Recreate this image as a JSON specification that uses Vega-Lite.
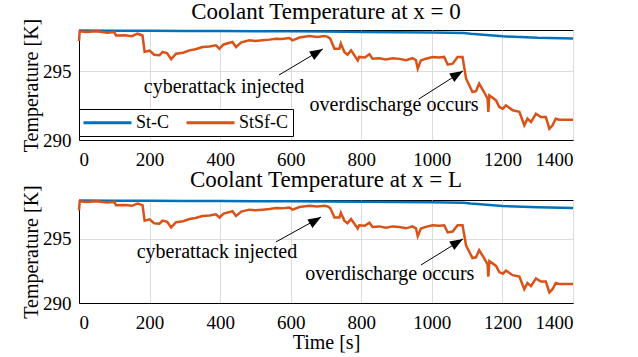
{
  "$schema": "https://vega.github.io/schema/vega-lite/v6.json",
  "background": "white",
  "padding": {"left": 20, "top": 0, "right": 5, "bottom": 0},
  "config": {
    "font": "Liberation Serif",
    "view": {"stroke": "black", "strokeWidth": 1},
    "axis": {"labelFont": "Liberation Serif", "labelFontSize": 19, "titleFont": "Liberation Serif", "titleFontSize": 20, "titleFontWeight": "normal", "labelColor": "black", "titleColor": "black", "domainColor": "black", "ticks": false, "gridColor": "#dcdcdc", "gridWidth": 1, "labelPadding": 8, "titlePadding": 1, "format": "d"},
    "axisX": {"labelPadding": 10},
    "title": {"font": "Liberation Serif", "fontSize": 23, "fontWeight": "normal", "color": "black", "frame": "group", "baseline": "alphabetic"},
    "legend": {"labelFont": "Liberation Serif", "labelFontSize": 18, "labelColor": "black", "fillColor": "white", "strokeColor": "black", "padding": 4, "symbolType": "M-3,0H3", "symbolStrokeWidth": 3, "symbolSize": 256, "symbolOffset": 15, "columnPadding": 10, "labelOffset": 19}
  },
  "datasets": {
    "temps": [
      {"t": 0, "temp": 297.96, "series": "St-C"},
      {"t": 100, "temp": 297.95, "series": "St-C"},
      {"t": 200, "temp": 297.94, "series": "St-C"},
      {"t": 300, "temp": 297.93, "series": "St-C"},
      {"t": 400, "temp": 297.92, "series": "St-C"},
      {"t": 500, "temp": 297.91, "series": "St-C"},
      {"t": 600, "temp": 297.9, "series": "St-C"},
      {"t": 700, "temp": 297.89, "series": "St-C"},
      {"t": 800, "temp": 297.86, "series": "St-C"},
      {"t": 900, "temp": 297.84, "series": "St-C"},
      {"t": 1000, "temp": 297.82, "series": "St-C"},
      {"t": 1090, "temp": 297.79, "series": "St-C"},
      {"t": 1110, "temp": 297.72, "series": "St-C"},
      {"t": 1200, "temp": 297.54, "series": "St-C"},
      {"t": 1300, "temp": 297.43, "series": "St-C"},
      {"t": 1400, "temp": 297.38, "series": "St-C"},
      {"t": 0, "temp": 297.2, "series": "StSf-C"},
      {"t": 2, "temp": 297.9, "series": "StSf-C"},
      {"t": 20, "temp": 297.85, "series": "StSf-C"},
      {"t": 50, "temp": 297.9, "series": "StSf-C"},
      {"t": 80, "temp": 297.8, "series": "StSf-C"},
      {"t": 100, "temp": 297.85, "series": "StSf-C"},
      {"t": 105, "temp": 297.6, "series": "StSf-C"},
      {"t": 130, "temp": 297.62, "series": "StSf-C"},
      {"t": 150, "temp": 297.55, "series": "StSf-C"},
      {"t": 166, "temp": 297.73, "series": "StSf-C"},
      {"t": 180, "temp": 297.6, "series": "StSf-C"},
      {"t": 186, "temp": 296.4, "series": "StSf-C"},
      {"t": 200, "temp": 296.5, "series": "StSf-C"},
      {"t": 213, "temp": 296.2, "series": "StSf-C"},
      {"t": 228, "temp": 296.16, "series": "StSf-C"},
      {"t": 237, "temp": 296.4, "series": "StSf-C"},
      {"t": 250, "temp": 296.3, "series": "StSf-C"},
      {"t": 261, "temp": 295.87, "series": "StSf-C"},
      {"t": 275, "temp": 296.28, "series": "StSf-C"},
      {"t": 295, "temp": 296.35, "series": "StSf-C"},
      {"t": 313, "temp": 296.52, "series": "StSf-C"},
      {"t": 330, "temp": 296.6, "series": "StSf-C"},
      {"t": 350, "temp": 296.76, "series": "StSf-C"},
      {"t": 370, "temp": 296.8, "series": "StSf-C"},
      {"t": 388, "temp": 296.89, "series": "StSf-C"},
      {"t": 398, "temp": 296.64, "series": "StSf-C"},
      {"t": 410, "temp": 296.95, "series": "StSf-C"},
      {"t": 435, "temp": 297.13, "series": "StSf-C"},
      {"t": 445, "temp": 296.76, "series": "StSf-C"},
      {"t": 460, "temp": 297.1, "series": "StSf-C"},
      {"t": 483, "temp": 297.25, "series": "StSf-C"},
      {"t": 500, "temp": 297.2, "series": "StSf-C"},
      {"t": 520, "temp": 297.25, "series": "StSf-C"},
      {"t": 540, "temp": 297.3, "series": "StSf-C"},
      {"t": 558, "temp": 297.37, "series": "StSf-C"},
      {"t": 575, "temp": 297.35, "series": "StSf-C"},
      {"t": 596, "temp": 297.42, "series": "StSf-C"},
      {"t": 605, "temp": 297.25, "series": "StSf-C"},
      {"t": 625, "temp": 297.45, "series": "StSf-C"},
      {"t": 653, "temp": 297.56, "series": "StSf-C"},
      {"t": 675, "temp": 297.5, "series": "StSf-C"},
      {"t": 695, "temp": 297.56, "series": "StSf-C"},
      {"t": 705, "temp": 297.5, "series": "StSf-C"},
      {"t": 712, "temp": 297.37, "series": "StSf-C"},
      {"t": 724, "temp": 296.64, "series": "StSf-C"},
      {"t": 738, "temp": 296.64, "series": "StSf-C"},
      {"t": 742, "temp": 297.01, "series": "StSf-C"},
      {"t": 752, "temp": 296.4, "series": "StSf-C"},
      {"t": 761, "temp": 296.2, "series": "StSf-C"},
      {"t": 771, "temp": 296.52, "series": "StSf-C"},
      {"t": 790, "temp": 295.79, "series": "StSf-C"},
      {"t": 794, "temp": 296.04, "series": "StSf-C"},
      {"t": 810, "temp": 296.0, "series": "StSf-C"},
      {"t": 823, "temp": 296.23, "series": "StSf-C"},
      {"t": 832, "temp": 295.91, "series": "StSf-C"},
      {"t": 851, "temp": 295.95, "series": "StSf-C"},
      {"t": 870, "temp": 295.85, "series": "StSf-C"},
      {"t": 889, "temp": 295.95, "series": "StSf-C"},
      {"t": 908, "temp": 295.9, "series": "StSf-C"},
      {"t": 927, "temp": 295.8, "series": "StSf-C"},
      {"t": 945, "temp": 295.95, "series": "StSf-C"},
      {"t": 955, "temp": 295.8, "series": "StSf-C"},
      {"t": 960, "temp": 295.19, "series": "StSf-C"},
      {"t": 969, "temp": 295.79, "series": "StSf-C"},
      {"t": 983, "temp": 295.91, "series": "StSf-C"},
      {"t": 1002, "temp": 296.04, "series": "StSf-C"},
      {"t": 1020, "temp": 296.0, "series": "StSf-C"},
      {"t": 1035, "temp": 296.04, "series": "StSf-C"},
      {"t": 1045, "temp": 295.48, "series": "StSf-C"},
      {"t": 1059, "temp": 295.55, "series": "StSf-C"},
      {"t": 1073, "temp": 296.04, "series": "StSf-C"},
      {"t": 1087, "temp": 296.04, "series": "StSf-C"},
      {"t": 1097, "temp": 294.46, "series": "StSf-C"},
      {"t": 1106, "temp": 293.98, "series": "StSf-C"},
      {"t": 1115, "temp": 293.49, "series": "StSf-C"},
      {"t": 1125, "temp": 293.55, "series": "StSf-C"},
      {"t": 1134, "temp": 294.1, "series": "StSf-C"},
      {"t": 1148, "temp": 293.49, "series": "StSf-C"},
      {"t": 1158, "temp": 293.0, "series": "StSf-C"},
      {"t": 1160, "temp": 292.04, "series": "StSf-C"},
      {"t": 1163, "temp": 293.25, "series": "StSf-C"},
      {"t": 1182, "temp": 292.88, "series": "StSf-C"},
      {"t": 1191, "temp": 292.4, "series": "StSf-C"},
      {"t": 1201, "temp": 292.28, "series": "StSf-C"},
      {"t": 1210, "temp": 292.52, "series": "StSf-C"},
      {"t": 1229, "temp": 292.16, "series": "StSf-C"},
      {"t": 1248, "temp": 292.05, "series": "StSf-C"},
      {"t": 1262, "temp": 291.07, "series": "StSf-C"},
      {"t": 1271, "temp": 291.55, "series": "StSf-C"},
      {"t": 1281, "temp": 291.31, "series": "StSf-C"},
      {"t": 1295, "temp": 291.91, "series": "StSf-C"},
      {"t": 1309, "temp": 291.67, "series": "StSf-C"},
      {"t": 1323, "temp": 291.67, "series": "StSf-C"},
      {"t": 1333, "temp": 290.82, "series": "StSf-C"},
      {"t": 1342, "temp": 291.07, "series": "StSf-C"},
      {"t": 1351, "temp": 291.55, "series": "StSf-C"},
      {"t": 1361, "temp": 291.48, "series": "StSf-C"},
      {"t": 1400, "temp": 291.48, "series": "StSf-C"}
    ],
    "notes": [
      {"panel": "top", "t": 411, "v": 293.85, "label": "cyberattack injected"},
      {"panel": "top", "t": 893, "v": 292.55, "label": "overdischarge occurs"},
      {"panel": "bottom", "t": 391, "v": 293.96, "label": "cyberattack injected"},
      {"panel": "bottom", "t": 881, "v": 292.25, "label": "overdischarge occurs"}
    ],
    "arrows": [
      {"panel": "top", "t1": 567, "v1": 294.73, "t2": 691, "v2": 296.62},
      {"panel": "top", "t1": 963, "v1": 292.98, "t2": 1088, "v2": 295.02},
      {"panel": "bottom", "t1": 558, "v1": 294.74, "t2": 686, "v2": 296.68},
      {"panel": "bottom", "t1": 969, "v1": 292.95, "t2": 1088, "v2": 294.97}
    ]
  },
  "spacing": 60,
  "bounds": "flush",
  "resolve": {"scale": {"color": "independent"}, "legend": {"color": "independent"}},
  "vconcat": [
    {
      "width": 494,
      "height": 110,
      "title": {"text": "Coolant Temperature at x = 0", "offset": -6},
      "layer": [
        {
          "data": {"name": "temps"},
          "mark": {"type": "line", "strokeWidth": 2.5},
          "encoding": {
            "x": {"field": "t", "type": "quantitative", "scale": {"domain": [0, 1400]}, "axis": {"values": [0, 200, 400, 600, 800, 1000, 1200, 1400], "title": null}},
            "y": {"field": "temp", "type": "quantitative", "scale": {"domain": [290, 298], "nice": false, "zero": false}, "axis": {"values": [290, 295], "title": "Temperature [K]"}},
            "color": {"field": "series", "type": "nominal", "scale": {"domain": ["St-C", "StSf-C"], "range": ["#0072BD", "#D95319"]}, "legend": {"title": null, "orient": "none", "legendX": 0, "legendY": 79, "direction": "horizontal"}}
          }
        },
        {
          "data": {"name": "arrows"},
          "transform": [{"filter": "datum.panel == 'top'"}],
          "mark": {"type": "rule", "color": "black", "strokeWidth": 1},
          "encoding": {"x": {"field": "t1", "type": "quantitative"}, "y": {"field": "v1", "type": "quantitative"}, "x2": {"field": "t2"}, "y2": {"field": "v2"}}
        },
        {
          "data": {"name": "arrows"},
          "transform": [{"filter": "datum.panel == 'top'"}],
          "mark": {"type": "point", "shape": "M0,0L0.38,1L-0.38,1Z", "filled": true, "color": "black", "opacity": 1, "size": 676, "angle": 59},
          "encoding": {"x": {"field": "t2", "type": "quantitative"}, "y": {"field": "v2", "type": "quantitative"}}
        },
        {
          "data": {"name": "notes"},
          "transform": [{"filter": "datum.panel == 'top'"}],
          "mark": {"type": "text", "font": "Liberation Serif", "fontSize": 20, "color": "black", "align": "center", "baseline": "middle"},
          "encoding": {"x": {"field": "t", "type": "quantitative"}, "y": {"field": "v", "type": "quantitative"}, "text": {"field": "label"}}
        }
      ]
    },
    {
      "width": 494,
      "height": 103,
      "title": {"text": "Coolant Temperature at x = L", "offset": -7},
      "layer": [
        {
          "data": {"name": "temps"},
          "mark": {"type": "line", "strokeWidth": 2.5},
          "encoding": {
            "x": {"field": "t", "type": "quantitative", "scale": {"domain": [0, 1400]}, "axis": {"values": [0, 200, 400, 600, 800, 1000, 1200, 1400], "title": "Time [s]", "titlePadding": 0}},
            "y": {"field": "temp", "type": "quantitative", "scale": {"domain": [290, 298], "nice": false, "zero": false}, "axis": {"values": [290, 295], "title": "Temperature [K]"}},
            "color": {"field": "series", "type": "nominal", "scale": {"domain": ["St-C", "StSf-C"], "range": ["#0072BD", "#D95319"]}, "legend": null}
          }
        },
        {
          "data": {"name": "arrows"},
          "transform": [{"filter": "datum.panel == 'bottom'"}],
          "mark": {"type": "rule", "color": "black", "strokeWidth": 1},
          "encoding": {"x": {"field": "t1", "type": "quantitative"}, "y": {"field": "v1", "type": "quantitative"}, "x2": {"field": "t2"}, "y2": {"field": "v2"}}
        },
        {
          "data": {"name": "arrows"},
          "transform": [{"filter": "datum.panel == 'bottom'"}],
          "mark": {"type": "point", "shape": "M0,0L0.38,1L-0.38,1Z", "filled": true, "color": "black", "opacity": 1, "size": 676, "angle": 59},
          "encoding": {"x": {"field": "t2", "type": "quantitative"}, "y": {"field": "v2", "type": "quantitative"}}
        },
        {
          "data": {"name": "notes"},
          "transform": [{"filter": "datum.panel == 'bottom'"}],
          "mark": {"type": "text", "font": "Liberation Serif", "fontSize": 20, "color": "black", "align": "center", "baseline": "middle"},
          "encoding": {"x": {"field": "t", "type": "quantitative"}, "y": {"field": "v", "type": "quantitative"}, "text": {"field": "label"}}
        }
      ]
    }
  ]
}
